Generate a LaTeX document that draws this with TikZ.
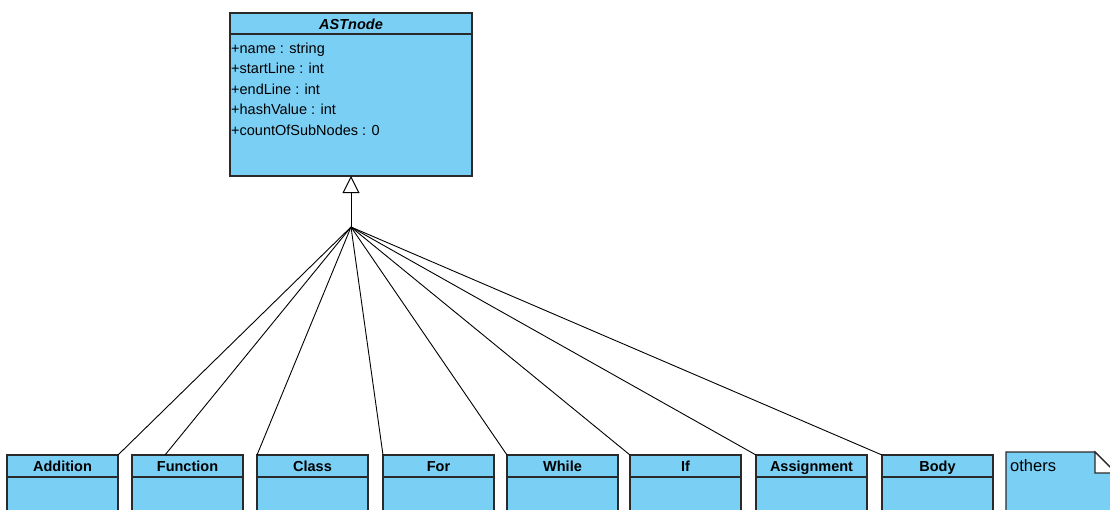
\documentclass[tikz,border=0pt]{standalone}
\usepackage{fontspec}
\setmainfont{Liberation Sans}
\usetikzlibrary{arrows.meta,calc}
\definecolor{clsfill}{HTML}{7ACFF5}
\definecolor{clsline}{HTML}{2A2A2A}

\begin{document}
\begin{tikzpicture}[x=1pt,y=-1pt,
  box/.style={draw=clsline, fill=clsfill, line width=1.1pt, inner sep=0pt, outer sep=0pt, anchor=north west},
  hdr/.style={box, minimum width=111pt, minimum height=22pt, text height=11pt, text depth=0pt,
              font=\fontsize{14.5}{16}\selectfont\bfseries},
  bodybox/.style={box, minimum width=111pt, minimum height=50pt},
  attr/.style={anchor=base west, inner sep=0pt, font=\fontsize{14.5}{16}\selectfont},
  link/.style={draw=black, line width=0.9pt},
]
\useasboundingbox (0,0) rectangle (1110,509);
\clip (0,0) rectangle (1110,509);

% superclass
\node[box, minimum width=242pt, minimum height=21pt, text height=11pt, text depth=0pt,
      font=\fontsize{14.5}{16}\selectfont\bfseries\itshape] (ast) at (230,13) {ASTnode};
\node[box, minimum width=242pt, minimum height=142pt] (astbody) at (ast.south west) {};
\node[attr] (a1) at (231,53)    {+name : string};
\node[attr] (a2) at (231,73.7)  {+startLine : int};
\node[attr] (a3) at (231,94.3)  {+endLine : int};
\node[attr] (a4) at (231,114.8) {+hashValue : int};
\node[attr] (a5) at (231,135.5) {+countOfSubNodes : 0};

% subclasses
\foreach \name/\x in {Addition/7, Function/132, Class/257, For/383, While/507, If/630, Assignment/756, Body/882}{
  \node[hdr] (\name) at (\x,455) {\name};
  \node[bodybox] (\name-body) at (\name.south west) {};
}

% note
\draw[draw=clsline, fill=clsfill, line width=1.1pt]
  (1006,452) -- (1095,452) -- (1116,473) -- (1116,530) -- (1006,530) -- cycle;
\draw[draw=clsline, fill=white, line width=1.1pt] (1095,452) -- (1095,473) -- (1116,473) -- cycle;
\node[anchor=base west, inner sep=0pt, font=\fontsize{16.5}{18}\selectfont] (others) at (1010,471.7) {others};

% generalisation
\coordinate (hub) at (351,227);
\draw[link, -{Triangle[open, length=17pt, width=17pt, line width=1pt]}] (hub) -- (astbody.south);
\draw[link] (hub) -- (Addition.north east);
\draw[link] (hub) -- ($(Function.north west)+(33,0)$);
\foreach \name in {Class, For, While, If, Assignment, Body}{
  \draw[link] (hub) -- (\name.north west);
}
\end{tikzpicture}
\end{document}
